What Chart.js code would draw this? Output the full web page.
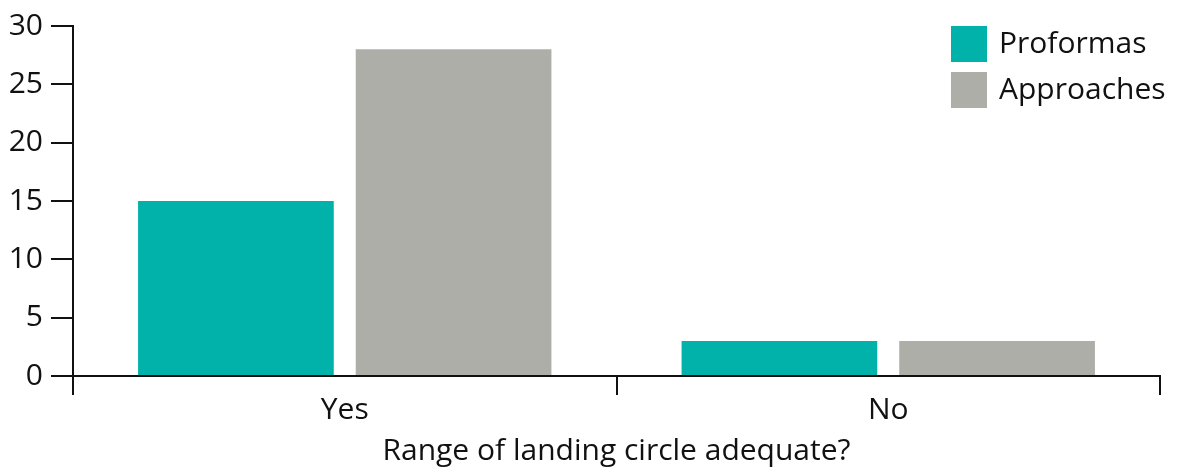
<!DOCTYPE html>
<html>
<head>
<meta charset="utf-8">
<script src="https://cdn.jsdelivr.net/npm/chart.js@4"></script>
<style>
  html, body { margin: 0; padding: 0; background: #ffffff; }
  #wrap { width: 1177px; height: 469px; position: relative; }
</style>
</head>
<body>
<div id="wrap"><canvas id="c" width="1177" height="469"></canvas></div>
<script>
const categories = ["Yes", "No"];
const seriesNames = ["Proformas", "Approaches"];
const proformas = [15, 3];
const approaches = [28, 3];
const yTicks = [0, 5, 10, 15, 20, 25, 30];
const xTitle = "Range of landing circle adequate?";
const colors = ["#00B2A9", "#AEAEA9"];

const FONT = "'Open Sans', 'Liberation Sans', Arial, sans-serif";

const legendPlugin = {
  id: 'boxLegend',
  afterDraw(chart) {
    const ctx = chart.ctx;
    ctx.save();
    chart.data.datasets.forEach((ds, i) => {
      const y = 26 + i * 46;
      ctx.fillStyle = ds.backgroundColor;
      ctx.fillRect(951, y, 36, 36);
      ctx.fillStyle = '#111111';
      ctx.font = '30px ' + FONT;
      ctx.textBaseline = 'middle';
      ctx.textAlign = 'left';
      ctx.fillText(ds.label, 999, y + 18);
    });
    ctx.restore();
  }
};

new Chart(document.getElementById('c'), {
  type: 'bar',
  data: {
    labels: categories,
    datasets: [
      { label: seriesNames[0], data: proformas, backgroundColor: colors[0] },
      { label: seriesNames[1], data: approaches, backgroundColor: colors[1] }
    ]
  },
  options: {
    responsive: false,
    animation: false,
    events: [],
    layout: { padding: { left: 0, right: 17, top: 25, bottom: 0 } },
    datasets: { bar: { categoryPercentage: 0.801, barPercentage: 0.899 } },
    plugins: { legend: { display: false }, tooltip: { enabled: false } },
    scales: {
      x: {
        grid: { offset: true, drawOnChartArea: false, color: '#111111', lineWidth: 2, tickLength: 19 },
        border: { color: '#111111', width: 2 },
        ticks: { color: '#111111', font: { family: FONT, size: 30 }, padding: -3 },
        title: { display: true, text: xTitle, color: '#111111', font: { family: FONT, size: 30 }, padding: { top: 0, bottom: 0 } },
        afterFit(scale) { scale.height = 93; }
      },
      y: {
        min: 0, max: 30,
        afterBuildTicks(scale) { scale.ticks = yTicks.map(v => ({ value: v })); },
        grid: { drawOnChartArea: false, color: '#111111', lineWidth: 2, tickLength: 22 },
        border: { color: '#111111', width: 2 },
        ticks: { color: '#111111', font: { family: FONT, size: 30 }, padding: 8 },
        afterFit(scale) { scale.width = 73; }
      }
    }
  },
  plugins: [legendPlugin]
});
</script>
</body>
</html>
